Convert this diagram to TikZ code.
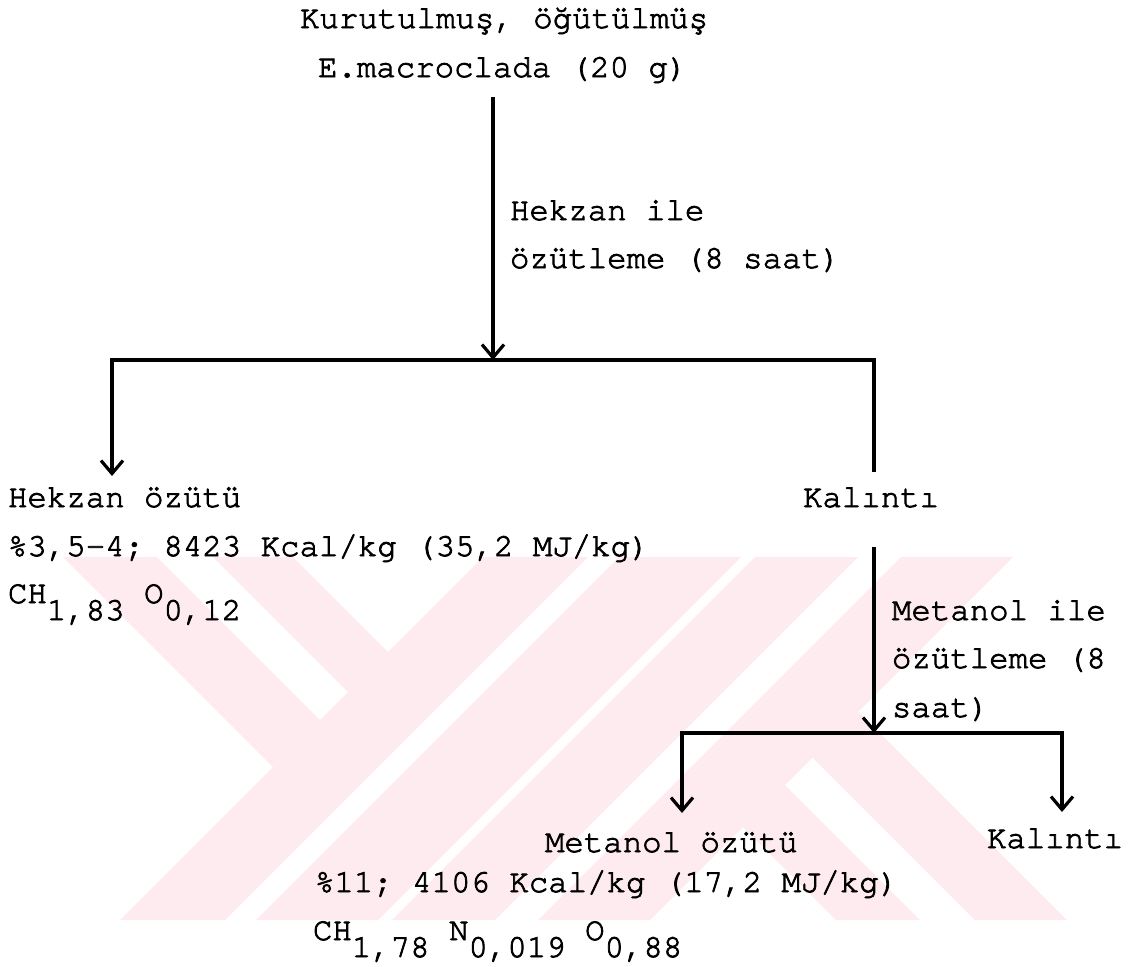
\documentclass[tikz,border=0pt]{standalone}
\usepackage{fontspec}
\setmainfont{TeX Gyre Cursor}[UprightFeatures={FakeBold=2.5}]
\usetikzlibrary{arrows.meta}
\definecolor{wm}{RGB}{254,235,239}
\begin{document}
\begin{tikzpicture}[x=0.5pt,y=-0.5pt,
  lbl/.style={anchor=base west, inner sep=0pt, outer sep=0pt, font=\fontsize{16.2pt}{24.5pt}\selectfont},
  flow/.style={line width=1.6pt, line join=miter},
  tipV/.tip={Straight Barb[length=6.5pt,width=11pt,line width=1.6pt]},
  wmark/.style={fill=wm, draw=none}]
\useasboundingbox (0,0) rectangle (1132,966);
% watermark
\fill[wmark] (63,557) -- (157,557) -- (320,720) -- (273,767) -- cycle;
\fill[wmark] (213,557) -- (293,557) -- (388,652) -- (348,692) -- cycle;
\fill[wmark] (483,557) -- (588,557) -- (225,920) -- (120,920) -- cycle;
\fill[wmark] (619,557) -- (741,557) -- (378,920) -- (256,920) -- cycle;
\fill[wmark] (755,557) -- (858,557) -- (495,920) -- (392,920) -- cycle;
\fill[wmark] (901,557) -- (1013,557) -- (650,920) -- (538,920) -- cycle;
\fill[wmark] (718,802) -- (760,760) -- (920,920) -- (836,920) -- cycle;
\fill[wmark] (787.5,732.5) -- (833.5,686.5) -- (1067,920) -- (975,920) -- cycle;
% texts
\node[lbl] (t1) at (300,28) {Kurutulmuş, öğütülmüş};
\node[lbl] (t2) at (318,77) {E.macroclada (20 g)};
\node[lbl] (h1) at (510,220) {Hekzan ile};
\node[lbl] (h2) at (510,268) {özütleme (8 saat)};
\node[lbl] (a1) at (8,507) {Hekzan özütü};
\node[lbl] (a2) at (8,556) {\%3,5-4; 8423 Kcal/kg (35,2 MJ/kg)};
\node[lbl] (a3) at (8,603) {CH\raisebox{-8.5pt}{1,83} O\raisebox{-8.5pt}{0,12}};
\node[lbl] (k1) at (803,507) {Kalıntı};
\node[lbl] (m1) at (892,620) {Metanol ile};
\node[lbl] (m2) at (892,668) {özütleme (8};
\node[lbl] (m3) at (892,717) {saat)};
\node[lbl] (b1) at (545,852) {Metanol özütü};
\node[lbl] (k2) at (987,848) {Kalıntı};
\node[lbl] (b2) at (315,892) {\%11; 4106 Kcal/kg (17,2 MJ/kg)};
\node[lbl] (b3) at (313,940) {CH\raisebox{-8.5pt}{1,78} N\raisebox{-8.5pt}{0,019} O\raisebox{-8.5pt}{0,88}};
% junction coordinates
\coordinate (s0) at (493,97);
\coordinate (j0) at (493,360);
\coordinate (jl) at (112,360);
\coordinate (al) at (112,476);
\coordinate (jr) at (874,360);
\coordinate (er) at (874,472);
\coordinate (s1) at (874,547);
\coordinate (j1) at (874,733);
\coordinate (jl2) at (682,733);
\coordinate (al2) at (682,813);
\coordinate (jr2) at (1062,733);
\coordinate (ar2) at (1062,812);
% connectors
\draw[flow, -tipV] (s0) -- (j0);
\draw[flow, -tipV] (er) -- (jr) -- (jl) -- (al);
\draw[flow, -tipV] (s1) -- (j1);
\draw[flow, tipV-tipV] (al2) -- (jl2) -- (jr2) -- (ar2);
\end{tikzpicture}
\end{document}
